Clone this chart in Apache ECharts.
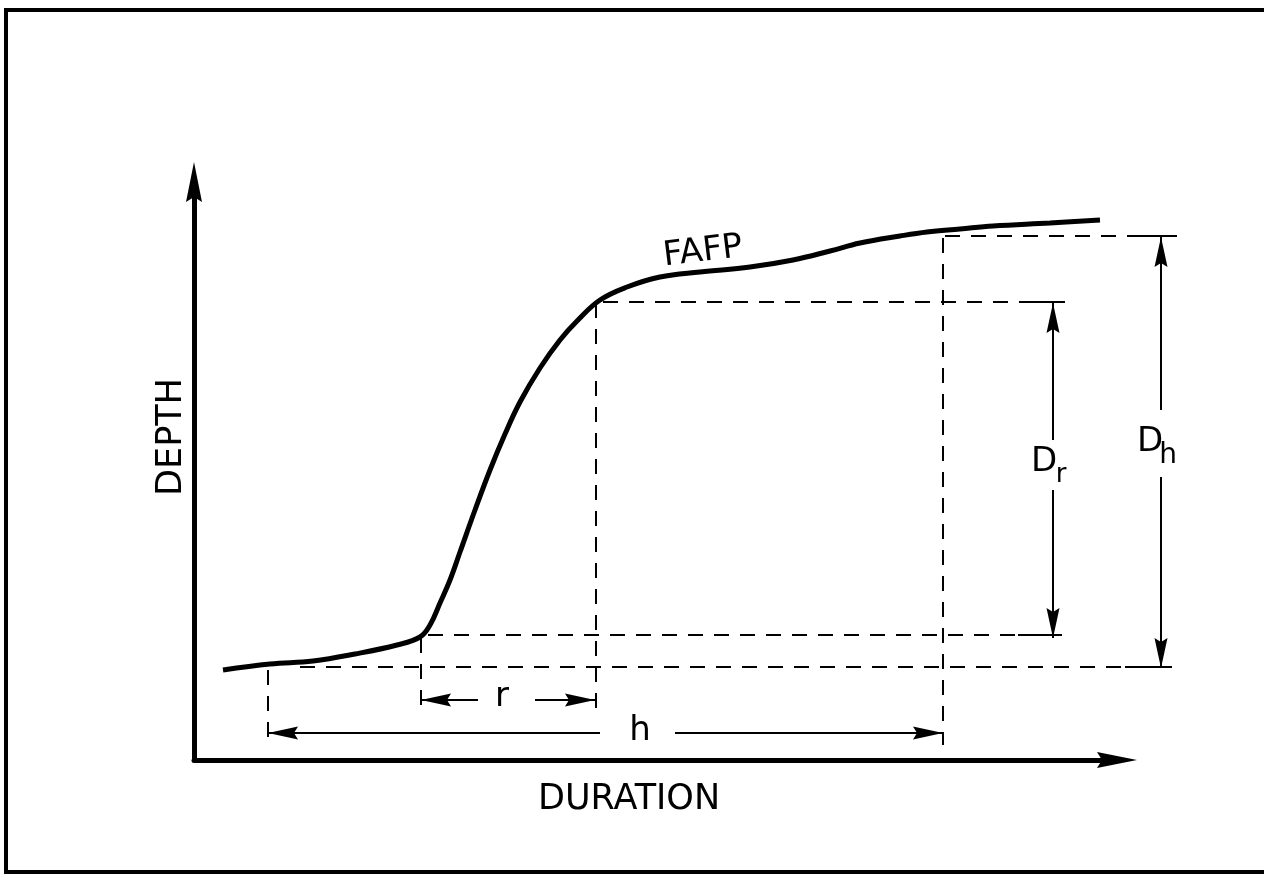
<!DOCTYPE html>
<html>
<head>
<meta charset="utf-8">
<script src="https://cdn.jsdelivr.net/npm/echarts@6/dist/echarts.min.js"></script>
<style>
html,body{margin:0;padding:0;background:#fff;}
#chartmain{width:1264px;height:875px;}
</style>
</head>
<body>
<div id="chartmain"></div>
<script>
// FAFP curve (duration, depth)
var curveX = [29,76,119,161,203,226,236,246,256,266,281,296,311,326,346,366,384,406,433,466,506,556,599,636,666,706,733,766,799,856,906];
var curveY = [90,96,99,106,115,123,135,157,180,208,250,290,326,358,392,420,440,460,473,483,488,493,500,509,517,524,528,531,534,537,540];

// dashed guide lines [x1, y1, x2, y2]
var guideLines = [
    [106,93,978,93],
    [234,125,868,125],
    [409,458,872,458],
    [751,524,983,524],
    [74,90,74,18],
    [227,122,227,48],
    [402,457,402,47],
    [749,522,749,15]
];
// short solid pieces where the D arrows stop
var guideEnds = [
    [831,458,871,458],
    [824,125,866,125],
    [938,524,983,524],
    [931,93,976,93]
];
// dimension arrows [fromX, fromY, tipX, tipY]
var dimArrows = [
    [284,60,227,60], [341,60,401,60],     // r
    [406,27,74,27], [481,27,749,27],      // h
    [859,320,859,457], [859,270,859,122], // Dr
    [967,350,967,523], [967,283,967,92]   // Dh
];
// texts
var labelNames = ['FAFP','r','h','D','r','D','h','DEPTH','DURATION'];
var labelX = [509,308,446,850,867,956,974,-22,435];
var labelY = [508,63,29,298,285,318,304,323,-40];
var labelSize = [34,34,34,34,26,34,28,35,35];

var headLen = 30;
var headPath = 'path://M0,0 L6,30 L0,26 L-6,30 Z';
var axisHead = 'path://M0,0 L8,40 L0,35 L-8,40 Z';

function seg(list){
    return list.map(function(g){
        return {coords:[[g[0],g[1]],[g[2],g[3]]]};
    });
}

//箭头: 中心点从尖端往回退半个箭头
var heads = dimArrows.map(function(a){
    var dx = a[2]-a[0], dy = a[3]-a[1];
    var len = Math.sqrt(dx*dx+dy*dy);
    var ux = dx/len, uy = dy/len;
    var rot;
    if (Math.abs(dx) > Math.abs(dy)) {
        rot = dx > 0 ? -90 : 90;
    } else {
        rot = dy > 0 ? 0 : 180;
    }
    return {value:[a[2]-ux*headLen/2, a[3]-uy*headLen/2], symbolRotate:rot};
});

var font = 'DejaVu Sans';
var labelRotate = {FAFP:7, DEPTH:90};
var texts = labelNames.map(function(n,i){
    return {
        value:[labelX[i],labelY[i]],
        label:{
            show:true,
            position:'inside',
            formatter:n,
            rotate:labelRotate[n] || 0,
            fontFamily:font,
            fontSize:labelSize[i],
            color:'#000',
            opacity:1
        }
    };
});

var option = {
    animation:false,
    backgroundColor:'#fff',
    grid:{left:194,right:147,top:182,bottom:115},
    xAxis:{
        type:'value', min:0, max:923,
        axisLine:{show:true, lineStyle:{color:'#000',width:5}, symbol:['none',axisHead], symbolSize:[17,40]},
        axisTick:{show:false}, axisLabel:{show:false}, splitLine:{show:false}
    },
    yAxis:{
        type:'value', min:0, max:578,
        axisLine:{show:true, lineStyle:{color:'#000',width:5}, symbol:['none',axisHead], symbolSize:[17,40]},
        axisTick:{show:false}, axisLabel:{show:false}, splitLine:{show:false}
    },
    graphic:[{
        type:'polyline',
        shape:{points:[[1270,10],[6,10],[6,872],[1270,872]]},
        style:{stroke:'#000', lineWidth:4, fill:null}
    }],
    series:[
        {
            name:'FAFP', type:'line', smooth:0.4, symbol:'none', clip:false,
            data:curveX.map(function(x,i){return [x,curveY[i]];}),
            lineStyle:{color:'#000', width:5}
        },
        {
            type:'lines', coordinateSystem:'cartesian2d', clip:false, silent:true,
            data:seg(guideLines),
            lineStyle:{color:'#000', width:2, type:[15,11], opacity:1}
        },
        {
            type:'lines', coordinateSystem:'cartesian2d', clip:false, silent:true,
            data:seg(guideEnds),
            lineStyle:{color:'#000', width:2, opacity:1}
        },
        {
            type:'lines', coordinateSystem:'cartesian2d', clip:false, silent:true,
            data:seg(dimArrows),
            lineStyle:{color:'#000', width:2, opacity:1}
        },
        {
            type:'scatter', clip:false, silent:true,
            symbol:headPath, symbolSize:[13,headLen],
            itemStyle:{color:'#000', opacity:1},
            data:heads
        },
        {
            type:'scatter', clip:false, silent:true,
            symbolSize:0,
            itemStyle:{opacity:1},
            data:texts
        }
    ]
};

var myChart = echarts.init(document.getElementById('chartmain'));
myChart.setOption(option);
</script>
</body>
</html>
